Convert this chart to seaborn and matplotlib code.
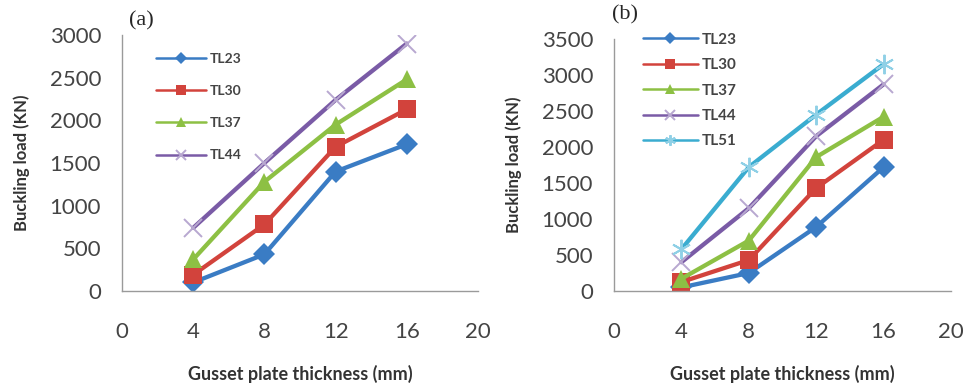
import matplotlib
matplotlib.use("Agg")
import matplotlib.pyplot as plt
import seaborn as sns

sns.set_theme(style="white")
plt.rcParams["font.family"] = ["Lato", "DejaVu Sans"]

# ---------------------------------------------------------------------------
# Data
# ---------------------------------------------------------------------------
thickness = [4, 8, 12, 16]

# panel (a)
a_tl23 = [100, 430, 1400, 1720]
a_tl30 = [190, 780, 1690, 2130]
a_tl37 = [370, 1280, 1950, 2480]
a_tl44 = [740, 1500, 2240, 2900]

# panel (b)
b_tl23 = [50, 250, 890, 1720]
b_tl30 = [125, 430, 1430, 2100]
b_tl37 = [170, 700, 1860, 2420]
b_tl44 = [400, 1150, 2150, 2870]
b_tl51 = [580, 1720, 2450, 3150]

x_ticks = [0, 4, 8, 12, 16, 20]
a_y_ticks = [0, 500, 1000, 1500, 2000, 2500, 3000]
b_y_ticks = [0, 500, 1000, 1500, 2000, 2500, 3000, 3500]

STYLE = {
    "TL23": dict(color="#3A7CC4", marker="D", ms=11, mew=0, mec="none"),
    "TL30": dict(color="#D2433C", marker="s", ms=13, mew=0, mec="none"),
    "TL37": dict(color="#8DC044", marker="^", ms=13, mew=0, mec="none"),
    "TL44": dict(color="#7A5BA6", marker="x", ms=13, mew=1.4, mec="#B8A8D0"),
    "TL51": dict(color="#3AACD0", marker=(6, 2, 0), ms=14, mew=1.4, mec="#8FD0E6"),
}


def draw_panel(ax, series, y_ticks, tag, tag_pos, leg_anchor, leg_spacing, leg_size):
    for name, vals in series.items():
        st = STYLE[name]
        sns.lineplot(x=thickness, y=vals, ax=ax, color=st["color"], lw=3.1,
                     marker=st["marker"], markersize=st["ms"],
                     markeredgewidth=st["mew"], markeredgecolor=st["mec"],
                     label=name)

    ax.set_xlim(0, 20)
    ax.set_ylim(0, y_ticks[-1])
    ax.set_xticks(x_ticks)
    ax.set_yticks(y_ticks)
    ax.tick_params(axis="x", length=0, pad=22, labelsize=16, colors="#444444")
    ax.tick_params(axis="y", length=0, pad=15, labelsize=16, colors="#444444")
    for s in ("top", "right"):
        ax.spines[s].set_visible(False)
    for s in ("left", "bottom"):
        ax.spines[s].set_color("#9a9a9a")
        ax.spines[s].set_linewidth(1.0)
    ax.set_xlabel("Gusset plate thickness (mm)", fontsize=13, fontweight="bold",
                  color="#333333", labelpad=17)
    ax.set_ylabel("Buckling load (KN)", fontsize=12, fontweight="bold",
                  color="#333333", labelpad=14)
    ax.text(tag_pos[0], tag_pos[1], tag, transform=ax.transAxes, fontsize=16,
            family="Liberation Serif", va="center", ha="left")

    leg = ax.legend(loc="upper left", bbox_to_anchor=leg_anchor, frameon=False,
                    fontsize=leg_size, handlelength=3.6, handletextpad=0.3,
                    labelspacing=leg_spacing, borderpad=0, borderaxespad=0,
                    markerscale=0.55)
    for h in leg.get_lines():
        h.set_linewidth(1.8)
    for t in leg.get_texts():
        t.set_fontweight("bold")
        t.set_color("#444444")


fig = plt.figure(figsize=(9.66, 3.89), dpi=100)
ax_a = fig.add_axes([0.1263, 0.2519, 0.3685, 0.658])
ax_b = fig.add_axes([0.6356, 0.2519, 0.3489, 0.648])

draw_panel(ax_a, {"TL23": a_tl23, "TL30": a_tl30, "TL37": a_tl37, "TL44": a_tl44},
           a_y_ticks, "(a)", (0.02, 1.055), (0.095, 0.93), 1.45, 10)
draw_panel(ax_b, {"TL23": b_tl23, "TL30": b_tl30, "TL37": b_tl37,
                  "TL44": b_tl44, "TL51": b_tl51},
           b_y_ticks, "(b)", (-0.005, 1.095), (0.085, 1.025), 0.75, 11)

fig.savefig("out.png", dpi=100)
